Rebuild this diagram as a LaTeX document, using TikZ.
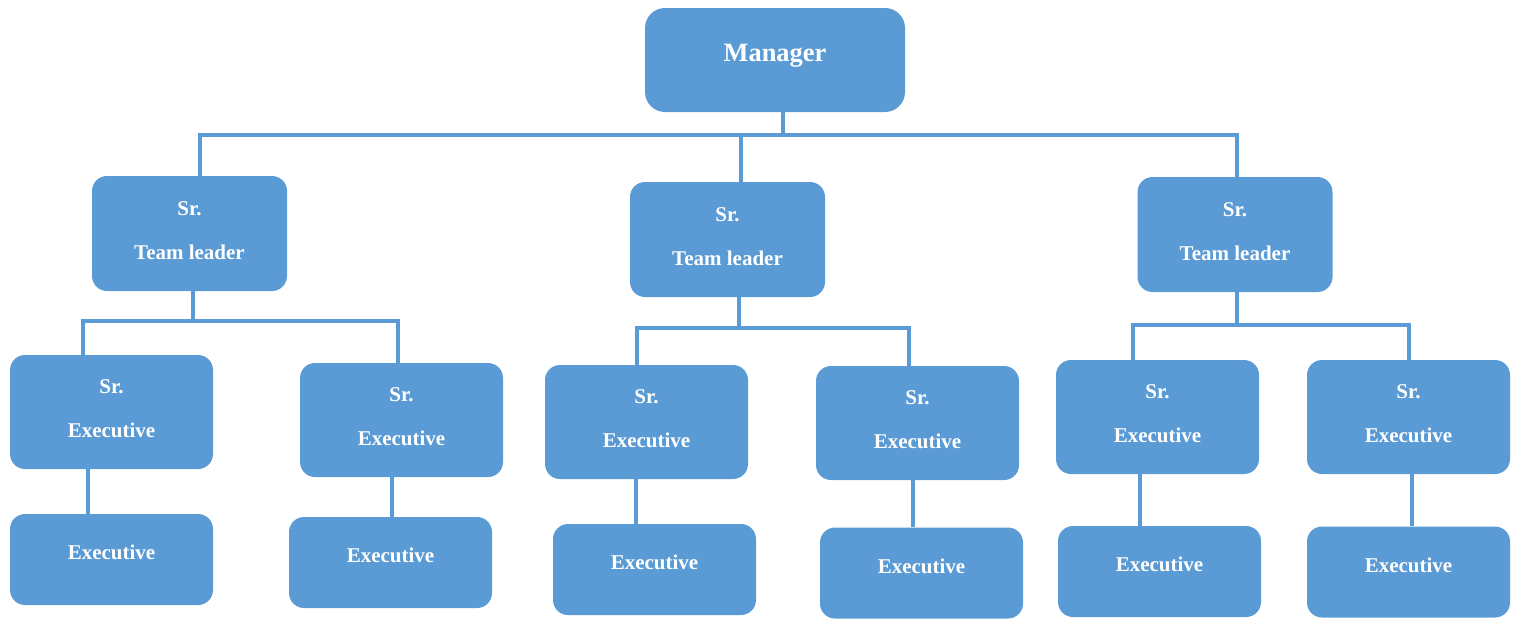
\documentclass[tikz,border=0pt]{standalone}
\usepackage{fontspec}
\setmainfont{Liberation Serif}
\usetikzlibrary{positioning}
\definecolor{unitblue}{HTML}{5B9BD5}

\begin{document}
\begin{tikzpicture}[
  x=0.5pt, y=-0.5pt,
  unit/.style={fill=unitblue, rounded corners=7.5pt, inner sep=0pt},
  boss/.style={unit, rounded corners=10pt, minimum width=130pt, minimum height=52pt},
  lead/.style={unit, minimum width=97.5pt, minimum height=57.5pt},
  senior/.style={unit, minimum width=101.5pt, minimum height=57pt},
  junior/.style={unit, minimum width=101.5pt, minimum height=45.5pt},
  txt/.style={text=white, align=center, font=\fontsize{10.5}{22}\selectfont\bfseries, yshift=1.5pt},
  txtone/.style={txt, yshift=2pt},
  link/.style={draw=unitblue, line width=2pt}
]
\useasboundingbox (0,0) rectangle (1519,618);

% top
\node[boss, label={[txtone, yshift=-1.5pt, font=\fontsize{13.2}{16}\selectfont\bfseries]center:Manager}] (mgr) at (775,60) {};

% team leaders
\node[lead, label={[txt]center:{Sr.\\Team leader}}] (tl1) at (189.5,233.5) {};
\node[lead, label={[txt]center:{Sr.\\Team leader}}] (tl2) at (727.5,239.5) {};
\node[lead, label={[txt]center:{Sr.\\Team leader}}] (tl3) at (1235,234.5) {};

% senior executives
\node[senior, label={[txt]center:{Sr.\\Executive}}] (se1) at (111.5,412) {};
\node[senior, label={[txt]center:{Sr.\\Executive}}] (se2) at (401.5,420) {};
\node[senior, label={[txt]center:{Sr.\\Executive}}] (se3) at (646.5,422) {};
\node[senior, label={[txt]center:{Sr.\\Executive}}] (se4) at (917.5,423) {};
\node[senior, label={[txt]center:{Sr.\\Executive}}] (se5) at (1157.5,417) {};
\node[senior, label={[txt]center:{Sr.\\Executive}}] (se6) at (1408.5,417) {};

% executives
\node[junior, label={[txtone]center:Executive}] (ex1) at (111.5,559.5) {};
\node[junior, label={[txtone]center:Executive}] (ex2) at (390.5,562.5) {};
\node[junior, label={[txtone]center:Executive}] (ex3) at (654.5,569.5) {};
\node[junior, label={[txtone]center:Executive}] (ex4) at (921.5,573) {};
\node[junior, label={[txtone]center:Executive}] (ex5) at (1159.5,571.5) {};
\node[junior, label={[txtone]center:Executive}] (ex6) at (1408.5,572) {};

% bars
\coordinate (hub) at (783,135);
\coordinate (hub1) at (193,321);
\coordinate (hub2) at (739,328);
\coordinate (hub3) at (1237,325);

\draw[link] (mgr.south -| hub) -- (hub);
\draw[link] (hub) -| ([xshift=5.25pt]tl1.north);
\draw[link] (hub) -| ([xshift=6.75pt]tl2.north);
\draw[link] (hub) -| ([xshift=1pt]tl3.north);

\draw[link] (tl1.south -| hub1) -- (hub1);
\draw[link] (hub1) -| ([xshift=-14.25pt]se1.north);
\draw[link] (hub1) -| ([xshift=-1.75pt]se2.north);
\draw[link] (tl2.south -| hub2) -- (hub2);
\draw[link] (hub2) -| ([xshift=-4.75pt]se3.north);
\draw[link] (hub2) -| ([xshift=-4.25pt]se4.north);
\draw[link] (tl3.south -| hub3) -- (hub3);
\draw[link] (hub3) -| ([xshift=-12.25pt]se5.north);
\draw[link] (hub3) -| (se6.north);

\draw[link] ([xshift=-11.75pt]se1.south) -- ([xshift=-11.75pt]ex1.north);
\draw[link] ([xshift=-4.75pt]se2.south) -- ([xshift=0.75pt]ex2.north);
\draw[link] ([xshift=-5.25pt]se3.south) -- ([xshift=-9.25pt]ex3.north);
\draw[link] ([xshift=-2.25pt]se4.south) -- ([xshift=-4.25pt]ex4.north);
\draw[link] ([xshift=-8.75pt]se5.south) -- ([xshift=-9.75pt]ex5.north);
\draw[link] ([xshift=1.75pt]se6.south) -- ([xshift=1.75pt]ex6.north);
\end{tikzpicture}
\end{document}
